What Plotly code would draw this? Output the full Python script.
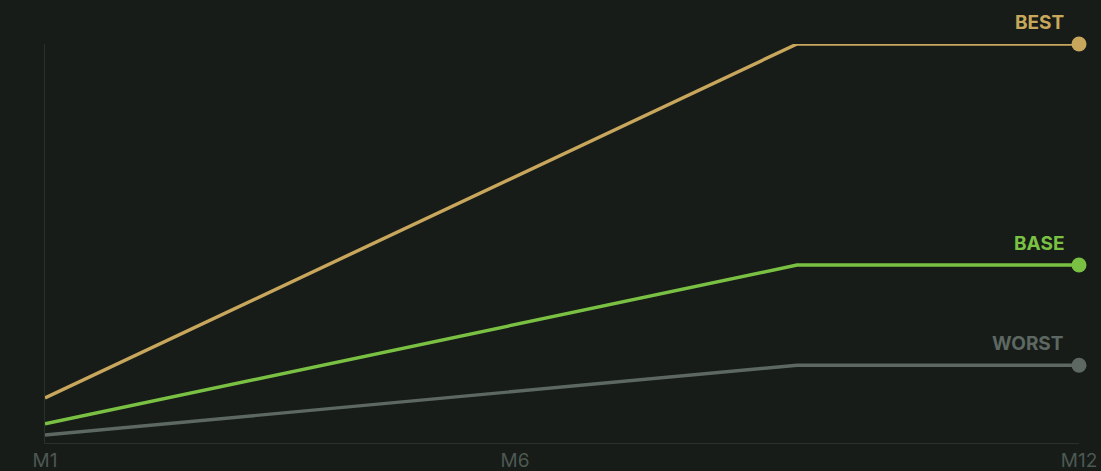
import plotly.graph_objects as go

months = ["M1", "M2", "M3", "M4", "M5", "M6", "M7", "M8", "M9", "M10", "M11", "M12"]
tick_labels = ["M1", "M6", "M12"]
best = [11.3, 22.4, 33.5, 44.6, 55.6, 66.7, 77.8, 88.9, 100, 100, 100, 100]
base = [4.8, 9.8, 14.7, 19.7, 24.7, 29.7, 34.6, 39.6, 44.6, 44.6, 44.6, 44.6]
worst = [2.0, 4.2, 6.4, 8.6, 10.8, 12.9, 15.1, 17.3, 19.5, 19.5, 19.5, 19.5]
names = ["BEST", "BASE", "WORST"]

series = [best, base, worst]
colors = ["#c8a75c", "#7ac143", "#5d6862"]

fig = go.Figure()
for name, vals, col in zip(names, series, colors):
    fig.add_trace(go.Scatter(
        x=months, y=vals, mode="lines", name=name,
        line=dict(color=col, width=3.4),
        cliponaxis=False, hoverinfo="skip",
    ))
    fig.add_trace(go.Scatter(
        x=[months[-1]], y=[vals[-1]], mode="markers", name=name,
        marker=dict(size=15, color=col, opacity=1, line=dict(width=0)),
        cliponaxis=False, hoverinfo="skip",
    ))
    fig.add_annotation(
        x=months[-1], y=vals[-1], text="<b>" + name + "</b>",
        showarrow=False, xanchor="right", yanchor="bottom",
        xshift=-13, yshift=8,
        font=dict(family="Inter, Roboto, sans-serif", size=19, color=col),
    )

fig.update_layout(
    width=1101, height=471,
    paper_bgcolor="#171c19", plot_bgcolor="#171c19",
    margin=dict(l=45, r=22, t=44, b=28, autoexpand=False),
    showlegend=False,
    hovermode=False,
    font=dict(family="Inter, Roboto, sans-serif"),
)
fig.update_xaxes(
    type="category", range=[0, 11], showgrid=False, zeroline=False,
    showline=True, linecolor="#2a302c", linewidth=1, automargin=False,
    tickmode="array", tickvals=tick_labels, ticktext=tick_labels,
    ticks="", tickfont=dict(size=19, color="#4d5852"),
)
fig.update_yaxes(
    range=[0, 100], showgrid=False, zeroline=False, automargin=False,
    showline=True, linecolor="#2a302c", linewidth=1,
    showticklabels=False, ticks="",
)

fig.write_html(
    "out.html",
    config={"displayModeBar": False},
    post_script=(
        "document.body.style.margin='0';"
        "document.body.style.overflow='hidden';"
        "document.body.style.background='#171c19';"
    ),
)
